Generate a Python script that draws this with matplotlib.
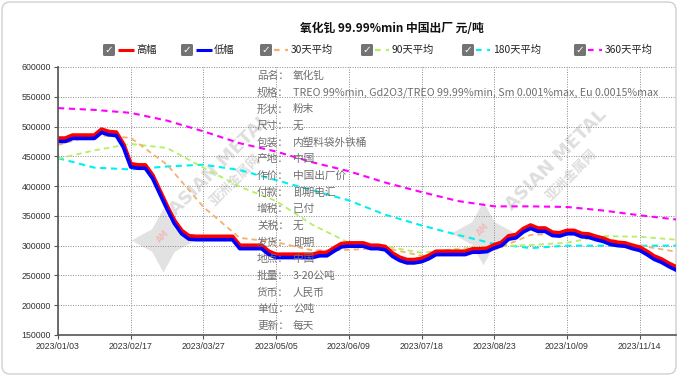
import numpy as np
import matplotlib
matplotlib.use('Agg')
import matplotlib.pyplot as plt
from matplotlib.patches import FancyBboxPatch

plt.rcParams['font.family'] = ['Noto Sans CJK SC', 'DejaVu Sans']

# x axis is a trading-day category axis, one sample per slot, label every 10 slots
x_labels = ['2023/01/03', '2023/02/17', '2023/03/27', '2023/05/05', '2023/06/09',
            '2023/07/18', '2023/08/23', '2023/10/09', '2023/11/14']

high = [480000, 480000, 485000, 485000, 485000, 485000, 495000, 491000, 490000, 470000,
        437000, 435000, 435000, 418000, 392000, 366000, 342000, 325000, 316000, 315000,
        315000, 315000, 315000, 315000, 315000, 300000, 300000, 300000, 300000, 290000,
        285000, 285000, 285000, 285000, 285000, 285000, 288000, 288000, 296000, 303000,
        304000, 304000, 304000, 300000, 300000, 298000, 287000, 280000, 276000, 276000,
        278000, 283000, 290000, 290000, 290000, 290000, 290000, 294000, 294000, 295000,
        301000, 305000, 316000, 318000, 328000, 334000, 329000, 329000, 322000, 321000,
        325000, 325000, 320000, 319000, 315000, 312000, 307000, 305000, 304000, 300000,
        297000, 290000, 282000, 277000, 270000, 264000]

low = [475000, 475000, 480000, 480000, 480000, 480000, 490000, 486000, 485000, 465000,
       432000, 430000, 430000, 413000, 387000, 361000, 337000, 320000, 311000, 310000,
       310000, 310000, 310000, 310000, 310000, 295000, 295000, 295000, 295000, 285000,
       280000, 280000, 280000, 280000, 280000, 280000, 283000, 283000, 291000, 298000,
       299000, 299000, 299000, 295000, 295000, 293000, 282000, 275000, 271000, 271000,
       273000, 278000, 285000, 285000, 285000, 285000, 285000, 289000, 289000, 290000,
       296000, 300000, 311000, 313000, 323000, 329000, 324000, 324000, 317000, 316000,
       320000, 320000, 315000, 314000, 310000, 307000, 302000, 300000, 299000, 295000,
       292000, 285000, 277000, 272000, 265000, 259000]

# moving averages, sampled every 5 slots
ma_slots = [0, 5, 10, 15, 20, 25, 30, 35, 40, 45, 50, 55, 60, 65, 70, 75, 80, 85]
ma30 = [469000, 486000, 481000, 436000, 365000, 313000, 306000, 292000, 293000, 296000,
        283000, 285000, 293000, 318000, 321000, 313000, 300000, 290000]
ma90 = [446000, 460000, 471000, 464000, 431000, 399000, 375000, 335000, 305000, 299000,
        288000, 295000, 299000, 301000, 305000, 316000, 315000, 310000]
ma180 = [447000, 431000, 428000, 433000, 436000, 427000, 410000, 393000, 376000, 352000,
         334000, 318000, 303000, 296000, 300000, 300000, 300000, 300000]
ma360 = [531000, 528000, 523000, 510000, 492000, 472000, 458000, 440000, 425000, 406000,
         390000, 375000, 366000, 366000, 365000, 359000, 351000, 344000]

title = '氧化钆 99.99%min 中国出厂 元/吨'
legend_names = ['高幅', '低幅', '30天平均', '90天平均', '180天平均', '360天平均']
legend_colors = ['#ff0000', '#0000ff', '#f4b070', '#b4f060', '#00f0f0', '#ff00ff']

info_keys = ['品名：', '规格：', '形状：', '尺寸：', '包装：', '产地：', '作价：', '付款：',
             '增税：', '关税：', '发货：', '地点：', '批量：', '货币：', '单位：', '更新：']
info_vals = ['氧化钆', 'TREO 99%min, Gd2O3/TREO 99.99%min, Sm 0.001%max, Eu 0.0015%max',
             '粉末', '无', '内塑料袋外铁桶', '中国', '中国出厂价', '即期电汇', '已付', '无',
             '即期', '中国', '3-20公吨', '人民币', '公吨', '每天']

W, H = 678, 376
fig = plt.figure(figsize=(W / 100, H / 100), dpi=100)

# background card with the grey header gradient
bg = fig.add_axes([0, 0, 1, 1], zorder=-5)
card = FancyBboxPatch((2, 2), W - 4, H - 4, boxstyle='round,pad=0,rounding_size=8',
                      fc='white', ec='#d0d0d0', lw=1)
bg.add_patch(card)
shade = np.interp(np.linspace(0, 46, 120), [0, 8, 18, 30, 46], [0.34, 0.52, 0.76, 0.92, 1.0])
im = bg.imshow(np.tile(shade[:, None], (1, 2)), cmap='gray', vmin=0, vmax=1,
               extent=[2, W - 2, 46, 2], aspect='auto', interpolation='bilinear')
im.set_clip_path(card)
bg.set_xlim(0, W)
bg.set_ylim(H, 0)
bg.axis('off')

# watermarks
for sx, sy, tx, ty in [(163, 240, 220, 165), (483, 233, 556, 160)]:
    bg.plot(sx, sy, marker=(4, 1, 0), ms=46, color='#e2e2e2', mec='none')
    bg.text(sx, sy - 4, 'AM', color='#f0bcbc', fontsize=5.5, ha='center', va='center',
            rotation=45, fontweight='bold', family='DejaVu Sans')
    bg.text(tx, ty, 'ASIAN METAL', rotation=45, fontsize=13, fontweight='bold',
            color='#dedede', ha='center', va='center', family='DejaVu Sans')
    bg.text(tx + 15, ty + 15, '亚洲金属网', rotation=45, fontsize=9.5, fontweight='bold',
            color='#dedede', ha='center', va='center')

bg.text(300, 28, title, fontsize=8.5, fontweight='bold', color='#111', ha='left', va='center')

# legend row
box_x = [103, 181, 260, 361, 462, 574]
for i, name in enumerate(legend_names):
    bx = box_x[i]
    bg.add_patch(FancyBboxPatch((bx, 44), 12, 12, boxstyle='round,pad=0,rounding_size=1.5',
                                fc='#737373', ec='none'))
    bg.text(bx + 6, 50.5, '✓', color='white', fontsize=7.5, fontweight='bold',
            ha='center', va='center', family='DejaVu Sans')
    if i < 2:
        bg.plot([bx + 15, bx + 31], [50, 50], color=legend_colors[i], lw=2.2,
                solid_capstyle='butt')
        tx0 = bx + 33
    else:
        bg.plot([bx + 14, bx + 28], [50, 50], color=legend_colors[i], lw=1.6,
                dashes=(2.5, 2.5))
        tx0 = bx + 31
    bg.text(tx0, 50, name, fontsize=7.4, color='#222', ha='left', va='center')

# main plot
ax = fig.add_axes([58 / W, 1 - 335 / H, (676 - 58) / W, (335 - 67) / H])
ax.set_facecolor('none')

dash = (3, 2.2)
ax.plot(ma_slots, ma360, color=legend_colors[5], lw=1.5, dashes=dash)
ax.plot(ma_slots, ma180, color=legend_colors[4], lw=1.5, dashes=dash)
ax.plot(ma_slots, ma90, color=legend_colors[3], lw=1.3, dashes=dash)
ax.plot(ma_slots, ma30, color=legend_colors[2], lw=1.3, dashes=dash)

slots = np.arange(len(high))
ax.plot(slots, high, color='#ff0000', lw=3.2)
ax.plot(slots, low, color='#0000ff', lw=2.6)

ax.set_xlim(0, 85)
ax.set_ylim(150000, 600000)
ax.set_yticks(np.arange(150000, 600001, 50000))
ax.set_xticks(np.arange(0, 81, 10))
ax.set_xticklabels(x_labels)
ax.grid(True, color='#8a8a8a', ls=(0, (1, 1.5)), lw=0.7)
ax.set_axisbelow(True)
for s in ['top', 'right']:
    ax.spines[s].set_visible(False)
for s in ['left', 'bottom']:
    ax.spines[s].set_color('#555')
    ax.spines[s].set_linewidth(1.2)
ax.tick_params(labelsize=6.3, length=3, color='#555', labelcolor='#333', pad=2)
for lab in ax.get_xticklabels() + ax.get_yticklabels():
    lab.set_fontfamily('Liberation Sans')

# product info block
for i, (k, v) in enumerate(zip(info_keys, info_vals)):
    yy = 76 + i * 16.65
    fig.text(257 / W, 1 - yy / H, k, fontsize=7.7, color='#6e6e6e', va='center', zorder=5)
    fig.text(293 / W, 1 - yy / H, v, fontsize=7.7, color='#6e6e6e', va='center', zorder=5)

fig.savefig('out.png', dpi=100)
